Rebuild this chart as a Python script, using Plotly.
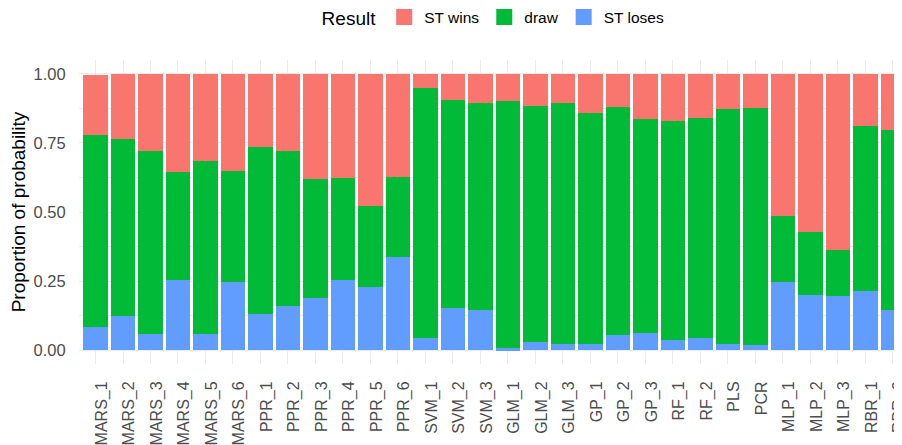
import plotly.graph_objects as go

models = ["MARS_1", "MARS_2", "MARS_3", "MARS_4", "MARS_5", "MARS_6",
          "PPR_1", "PPR_2", "PPR_3", "PPR_4", "PPR_5", "PPR_6",
          "SVM_1", "SVM_2", "SVM_3", "GLM_1", "GLM_2", "GLM_3",
          "GP_1", "GP_2", "GP_3", "RF_1", "RF_2", "PLS", "PCR",
          "MLP_1", "MLP_2", "MLP_3", "RBR_1", "RBR_2"]

st_loses = [0.085, 0.123, 0.058, 0.254, 0.058, 0.247,
            0.131, 0.160, 0.189, 0.254, 0.229, 0.337,
            0.044, 0.152, 0.145, 0.007, 0.029, 0.022,
            0.022, 0.054, 0.062, 0.036, 0.043, 0.022, 0.018,
            0.246, 0.199, 0.196, 0.214, 0.145]

draw = [0.695, 0.642, 0.664, 0.392, 0.628, 0.402,
        0.605, 0.562, 0.431, 0.370, 0.293, 0.291,
        0.903, 0.755, 0.750, 0.895, 0.855, 0.873,
        0.837, 0.826, 0.775, 0.794, 0.798, 0.851, 0.859,
        0.240, 0.229, 0.166, 0.598, 0.652]

st_wins = [0.217, 0.235, 0.278, 0.354, 0.314, 0.351,
           0.264, 0.278, 0.380, 0.376, 0.478, 0.372,
           0.053, 0.093, 0.105, 0.098, 0.116, 0.105,
           0.141, 0.120, 0.163, 0.170, 0.159, 0.127, 0.123,
           0.514, 0.572, 0.638, 0.188, 0.203]

font = "Liberation Sans, Arial, sans-serif"
colors = {"ST wins": "#F8766D", "draw": "#00BA38", "ST loses": "#619CFF"}

fig = go.Figure()
# stacked from the bottom up
for name, vals in [("ST loses", st_loses), ("draw", draw), ("ST wins", st_wins)]:
    fig.add_bar(x=models, y=vals, name=name, showlegend=False,
                marker=dict(color=colors[name], line_width=0))

# legend-only entries so the keys are bigger squares, like ggplot's
for name in ["ST wins", "draw", "ST loses"]:
    fig.add_scatter(x=[None], y=[None], mode="markers", name=name,
                    marker=dict(symbol="square", size=16, color=colors[name]))

# the page body has an 8px margin; size the figure so it fills the window exactly
fig.update_layout(
    width=894,
    height=437,
    barmode="stack",
    bargap=0.1,
    plot_bgcolor="white",
    paper_bgcolor="white",
    margin=dict(l=71, r=0, t=52, b=81, autoexpand=False),
    font=dict(family=font, color="#4D4D4D"),
    legend=dict(
        orientation="h",
        traceorder="normal",
        itemsizing="trace",
        x=0.505,
        xanchor="center",
        y=1.138,
        yanchor="middle",
        title=dict(text="Result", font=dict(size=19, color="black")),
        font=dict(size=15.5, color="black"),
    ),
)

fig.update_xaxes(
    range=[-0.6, 29.33],
    automargin=False,
    showgrid=True,
    gridcolor="#EBEBEB",
    gridwidth=1,
    tickangle=-90,
    tickfont=dict(size=16, color="#4D4D4D"),
    ticks="outside",
    ticklen=10,
    tickcolor="rgba(0,0,0,0)",
    ticklabelshift=6,
    showline=False,
    zeroline=False,
)
fig.update_yaxes(
    range=[-0.05, 1.05],
    automargin=False,
    tickvals=[0, 0.25, 0.5, 0.75, 1.0],
    tickformat=".2f",
    showgrid=True,
    gridcolor="#EBEBEB",
    gridwidth=1,
    minor=dict(tickvals=[0.125, 0.375, 0.625, 0.875], showgrid=True,
               gridcolor="#EBEBEB", gridwidth=0.5),
    ticks="outside",
    ticklen=9,
    tickcolor="rgba(0,0,0,0)",
    tickfont=dict(size=16.5, color="#4D4D4D"),
    zeroline=False,
    showline=False,
    title=dict(text="Proportion of probability", font=dict(size=19, color="black"), standoff=6),
)

fig.write_html("out.html")
